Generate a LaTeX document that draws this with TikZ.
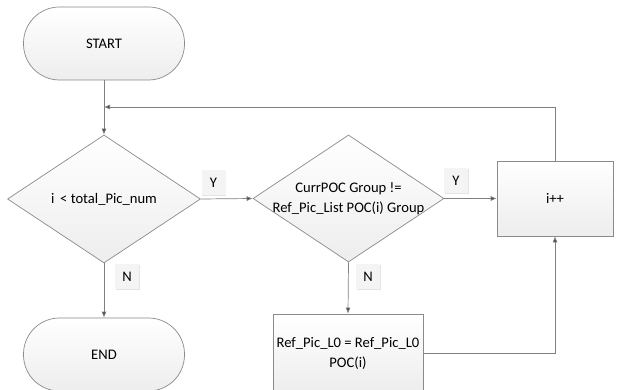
\documentclass[tikz,border=0pt]{standalone}
\usepackage{fontspec}
\setmainfont{Carlito}
\usetikzlibrary{shapes.geometric,arrows.meta,shadows}
\definecolor{edge}{HTML}{8A8A8A}
\definecolor{wire}{HTML}{808080}
\definecolor{tip}{HTML}{404040}
\begin{document}
\begin{tikzpicture}[x=1pt,y=-1pt,
  font=\fontsize{14.6}{20}\selectfont,
  shade box/.style={draw=edge, line width=0.7pt, top color=white, bottom color=gray!14},
  term/.style={shade box, rectangle, rounded corners=36pt, minimum width=161pt, minimum height=73pt, inner sep=0pt},
  dec/.style={shade box, diamond, inner sep=0pt},
  proc/.style={shade box, rectangle, inner sep=0pt},
  lbl/.style={fill=gray!9, minimum width=24pt, minimum height=25pt, inner sep=0pt,
    drop shadow={shadow xshift=0.8pt, shadow yshift=-0.8pt, fill=gray!35, opacity=0.6}},
  conn/.style={draw=wire, line width=0.7pt},
  arr/.style={conn, -{Latex[length=6pt,width=5pt,fill=tip]}}]
\useasboundingbox (0,0) rectangle (618,390);
\fill[white] (0,0) rectangle (618,390);

\node[term] (start) at (104,43.5) {START};
\node[dec, minimum width=193pt, minimum height=128pt] (d1) at (104,199) {};
\node (t1) at (104,199) {i \,< total\_Pic\_num};
\node[dec, minimum width=191pt, minimum height=127pt] (d2) at (348.5,198.5) {};
\node[align=center] (t2) at (348.5,198.5) {CurrPOC Group !=\\Ref\_Pic\_List POC(i) Group};
\node[proc, minimum width=116pt, minimum height=75pt] (inc) at (555,198.5) {i++};
\node[term] (end) at (104,354.5) {END};
\node[proc, minimum width=150pt, minimum height=78pt, align=center] (ref) at (348,353) {Ref\_Pic\_L0 = Ref\_Pic\_L0\\POC(i)};

\node[lbl] (y1) at (213.5,183) {Y};
\node[lbl] (y2) at (456,181) {Y};
\node[lbl] (n1) at (127,276.5) {N};
\node[lbl] (n2) at (368,276.5) {N};

\coordinate (m) at (104,107);
\draw[arr] (start.south) -- (d1.north);
\draw[arr] (inc.north) |- (m);
\draw[arr] (d1.east) -- (d2.west);
\draw[arr] (d2.east) -- (inc.west);
\draw[arr] (d1.south) -- (end.north);
\draw[arr] (d2.south) -- (ref.north);
\draw[arr] (ref.east) -| (inc.south);
\end{tikzpicture}
\end{document}
